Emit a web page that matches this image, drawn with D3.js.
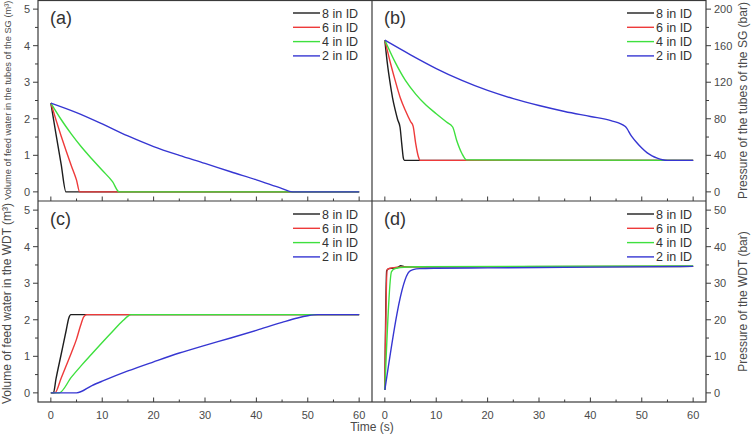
<!DOCTYPE html>
<html><head><meta charset="utf-8">
<script src="https://cdn.jsdelivr.net/npm/d3@7"></script>
<style>
html,body{margin:0;padding:0;background:#fff;}
svg{display:block;font-family:"Liberation Sans",Arial,sans-serif;}
</style></head>
<body><svg id="c" width="753" height="434"></svg>
<script>
// ---------- data ----------
const seriesNames = ["8 in ID", "6 in ID", "4 in ID", "2 in ID"];
const seriesColors = ["#1e1e1e", "#ee3a3a", "#3ee03e", "#3636d2"];
const xTicks = [0, 10, 20, 30, 40, 50, 60];

// (a) volume of feed water in the tubes of the SG (m3)
const aT8 = [0, 1, 2, 2.95, 60];
const aV8 = [2.43, 1.58, 0.76, 0, 0];
const aT6 = [0, 1, 2, 3, 4, 5, 5.6, 60];
const aV6 = [2.43, 1.97, 1.53, 1.11, 0.71, 0.32, 0, 0];
const aT4 = [0, 2, 4, 6, 8, 10, 12, 13.3, 60];
const aV4 = [2.43, 1.98, 1.58, 1.22, 0.9, 0.59, 0.28, 0, 0];
const aT2 = [0, 5, 10, 15, 20, 25, 30, 35, 40, 45, 47, 60];
const aV2 = [2.43, 2.17, 1.86, 1.53, 1.24, 1.0, 0.78, 0.55, 0.33, 0.09, 0, 0];

// (b) pressure of the tubes of the SG (bar)
const bT8 = [0, 0.5, 1, 1.5, 2, 2.5, 2.95, 3.3, 3.6, 3.8, 60];
const bP8 = [166, 140, 120, 103, 90, 79, 71, 52, 37, 34.5, 34.5];
const bT6 = [0, 1, 2, 3, 4, 5, 5.5, 6, 6.5, 6.9, 60];
const bP6 = [166, 143, 122, 103, 89, 77, 72, 53, 39, 34.5, 34.5];
const bT4 = [0, 2, 4, 6, 8, 10, 12, 13.2, 14, 15, 15.9, 60];
const bP4 = [166, 142, 122, 107, 95, 85.5, 76.5, 71, 56, 42, 35, 34.5];
const bT2 = [0, 5, 10, 15, 20, 25, 30, 35, 40, 44, 46.8, 48, 49, 50, 51, 52, 53, 54, 55, 60];
const bP2 = [166, 150, 135, 122, 111, 102, 94.5, 88, 82.5, 78, 71.5, 61, 54, 48, 43, 39.5, 37, 35.2, 34.5, 34.5];

// (c) volume of feed water in the WDT (m3)
const cT8 = [0, 0.5, 1, 2, 3, 3.5, 3.9, 60];
const cV8 = [0, 0, 0.38, 1.05, 1.72, 2.05, 2.14, 2.14];
const cT6 = [0, 0.8, 2, 3, 4, 5, 5.8, 6.4, 7, 60];
const cV6 = [0, 0, 0.4, 0.75, 1.1, 1.47, 1.85, 2.08, 2.14, 2.14];
const cT4 = [0, 1.6, 4, 6, 8, 10, 12, 14, 15, 15.6, 60];
const cV4 = [0, 0, 0.43, 0.76, 1.07, 1.38, 1.68, 1.97, 2.1, 2.14, 2.14];
const cT2 = [0, 5, 8, 10, 15, 20, 25, 30, 35, 40, 45, 48, 50, 52, 53, 60];
const cV2 = [0, 0, 0.2, 0.32, 0.6, 0.85, 1.09, 1.3, 1.5, 1.71, 1.93, 2.05, 2.11, 2.14, 2.14, 2.14];

// (d) pressure of the WDT (bar)
const dT8 = [0, 0.35, 0.8, 1.5, 2.5, 3.1, 3.8, 5, 60];
const dP8 = [0.8, 33.4, 34.0, 34.1, 34.3, 34.8, 34.5, 34.5, 34.6];
const dT6 = [0, 0.45, 1, 2, 5, 60];
const dP6 = [0.8, 33.7, 34.1, 34.3, 34.5, 34.6];
const dT4 = [0, 1.3, 2, 3, 6, 60];
const dP4 = [0.8, 33.2, 34.0, 34.3, 34.5, 34.7];
const dT2 = [0, 4.77, 5.5, 6.8, 10, 20, 40, 60];
const dP2 = [0.8, 33.2, 33.7, 34.0, 34.1, 34.2, 34.4, 34.6];

const volTicks = [0, 1, 2, 3, 4, 5];
const sgPressTicks = [0, 40, 80, 120, 160, 200];
const wdtPressTicks = [0, 10, 20, 30, 40, 50];

// ---------- drawing ----------
const svg = d3.select("#c");
const L = 38, M = 372, R = 706, T = 0, H = 201, B = 402;
const axisColor = "#3a3a3a", textColor = "#4a4a4a";

function zip(ts, vs) { return ts.map((t, i) => ({t: t, v: vs[i]})); }

function panel(opt) {
  const g = svg.append("g");
  const x = d3.scaleLinear().domain([-2.5, 62.5]).range([opt.x0, opt.x1]);
  const y = d3.scaleLinear().domain(opt.yDomain).range([opt.y1, opt.y0]);

  const line = d3.line().x(d => x(d.t)).y(d => y(d.v)).curve(d3.curveMonotoneX);
  opt.series.forEach((s, i) => {
    g.append("path").datum(zip(s[0], s[1]))
      .attr("fill", "none").attr("stroke", seriesColors[i])
      .attr("stroke-width", 1.4).attr("stroke-linejoin", "round")
      .attr("d", line);
  });

  // x axis: ticks inward
  const xa = g.append("g").attr("transform", `translate(0,${opt.y1})`);
  const minorX = d3.range(5, 60, 10);
  xa.selectAll("line.maj").data(xTicks).join("line").attr("class", "maj")
    .attr("x1", d => x(d)).attr("x2", d => x(d)).attr("y1", 0).attr("y2", -4.5)
    .attr("stroke", axisColor).attr("stroke-width", 1);
  xa.selectAll("line.min").data(minorX).join("line").attr("class", "min")
    .attr("x1", d => x(d)).attr("x2", d => x(d)).attr("y1", 0).attr("y2", -2.5)
    .attr("stroke", axisColor).attr("stroke-width", 1);
  if (opt.xLabels) {
    xa.selectAll("text").data(xTicks).join("text")
      .attr("x", d => x(d)).attr("y", 17).attr("text-anchor", "middle")
      .attr("font-size", 11).attr("fill", textColor).text(d => d);
  }

  // y axis: ticks outward
  const yAxisX = opt.yRight ? opt.x1 : opt.x0;
  const dir = opt.yRight ? 1 : -1;
  const ya = g.append("g");
  const step = opt.yTicks[1] - opt.yTicks[0];
  const minorY = opt.yTicks.slice(0, -1).map(v => v + step / 2);
  ya.selectAll("line.maj").data(opt.yTicks).join("line").attr("class", "maj")
    .attr("x1", yAxisX).attr("x2", yAxisX + dir * 5)
    .attr("y1", d => y(d)).attr("y2", d => y(d))
    .attr("stroke", axisColor).attr("stroke-width", 1);
  ya.selectAll("line.min").data(minorY).join("line").attr("class", "min")
    .attr("x1", yAxisX).attr("x2", yAxisX + dir * 3)
    .attr("y1", d => y(d)).attr("y2", d => y(d))
    .attr("stroke", axisColor).attr("stroke-width", 1);
  ya.selectAll("text").data(opt.yTicks).join("text")
    .attr("x", yAxisX + dir * 8).attr("y", d => y(d) + 4)
    .attr("text-anchor", opt.yRight ? "start" : "end")
    .attr("font-size", 11).attr("fill", textColor).text(d => d);

  // panel letter
  g.append("text").attr("x", opt.x0 + 12).attr("y", opt.y0 + 24)
    .attr("font-size", 18).attr("fill", "#333").text(opt.letter);

  // legend
  const lg = g.append("g");
  seriesNames.forEach((n, i) => {
    const ly = opt.y0 + 13 + i * 14.3;
    lg.append("line").attr("x1", opt.x1 - 79).attr("x2", opt.x1 - 52)
      .attr("y1", ly).attr("y2", ly).attr("stroke", seriesColors[i]).attr("stroke-width", 1.4);
    lg.append("text").attr("x", opt.x1 - 50).attr("y", ly + 4.5)
      .attr("font-size", 12.5).attr("fill", "#333").text(n);
  });
}

panel({x0: L, x1: M, y0: T, y1: H, yDomain: [-0.25, 5.25], yTicks: volTicks, yRight: false,
  letter: "(a)", xLabels: false,
  series: [[aT8, aV8], [aT6, aV6], [aT4, aV4], [aT2, aV2]]});
panel({x0: M, x1: R, y0: T, y1: H, yDomain: [-10, 210], yTicks: sgPressTicks, yRight: true,
  letter: "(b)", xLabels: false,
  series: [[bT8, bP8], [bT6, bP6], [bT4, bP4], [bT2, bP2]]});
panel({x0: L, x1: M, y0: H, y1: B, yDomain: [-0.25, 5.25], yTicks: volTicks, yRight: false,
  letter: "(c)", xLabels: true,
  series: [[cT8, cV8], [cT6, cV6], [cT4, cV4], [cT2, cV2]]});
panel({x0: M, x1: R, y0: H, y1: B, yDomain: [-2.5, 52.5], yTicks: wdtPressTicks, yRight: true,
  letter: "(d)", xLabels: true,
  series: [[dT8, dP8], [dT6, dP6], [dT4, dP4], [dT2, dP2]]});

// frames
const fr = svg.append("g").attr("fill", "none").attr("stroke", axisColor).attr("stroke-width", 1.2);
fr.append("rect").attr("x", L).attr("y", T + 0.5).attr("width", R - L).attr("height", B - T - 0.5);
fr.append("line").attr("x1", M).attr("x2", M).attr("y1", T).attr("y2", B);
fr.append("line").attr("x1", L).attr("x2", R).attr("y1", H).attr("y2", H);

// axis titles
svg.append("text").attr("transform", `translate(11,200) rotate(-90)`)
  .attr("text-anchor", "start").attr("font-size", 9.3).attr("fill", textColor)
  .text("Volume of feed water in the tubes of the SG (m³)");
svg.append("text").attr("transform", `translate(11,${(H + B) / 2 + 2}) rotate(-90)`)
  .attr("text-anchor", "middle").attr("font-size", 12).attr("fill", textColor)
  .text("Volume of feed water in the WDT (m³)");
svg.append("text").attr("transform", `translate(747,${(T + H) / 2}) rotate(-90)`)
  .attr("text-anchor", "middle").attr("font-size", 12).attr("fill", textColor)
  .text("Pressure of the tubes of the SG (bar)");
svg.append("text").attr("transform", `translate(747,${(H + B) / 2}) rotate(-90)`)
  .attr("text-anchor", "middle").attr("font-size", 12).attr("fill", textColor)
  .text("Pressure of the WDT (bar)");
svg.append("text").attr("x", (L + R) / 2).attr("y", 431).attr("text-anchor", "middle")
  .attr("font-size", 12).attr("fill", textColor).text("Time (s)");
</script></body></html>
